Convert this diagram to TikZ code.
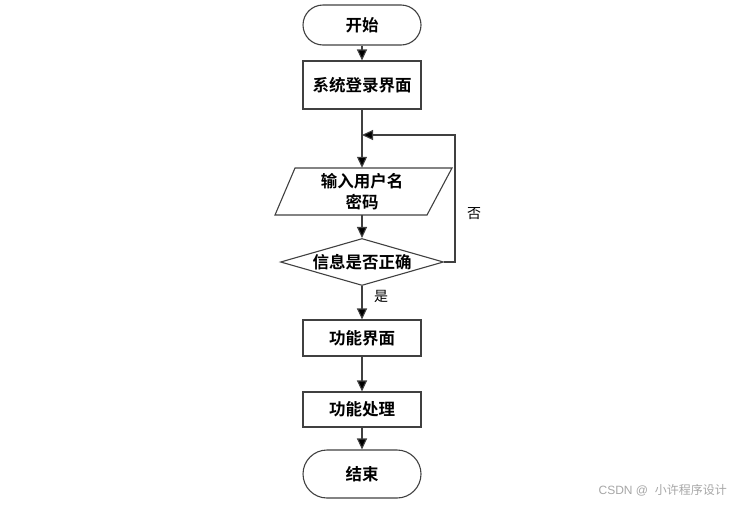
\documentclass[tikz,border=0pt]{standalone}
\usepackage{fontspec}
\usetikzlibrary{arrows.meta,shapes.geometric}
\newfontfamily\cjk{Noto Sans CJK SC}[BoldFont={* Bold}]
\newfontfamily\cjkl{Noto Sans CJK SC}
\begin{document}
\begin{tikzpicture}[x=1pt,y=-1pt,
  line/.style={draw=black!75, line width=1.1pt},
  arr/.style={line, -{Triangle[width=10pt,length=11pt,fill=black]}},
  term/.style={line, rounded corners=20pt, minimum width=118pt, minimum height=40pt, inner sep=0pt, font=\cjk\bfseries\fontsize{16.5}{19}\selectfont},
  proc/.style={line, minimum width=118pt, inner sep=0pt, font=\cjk\bfseries\fontsize{16.5}{19}\selectfont},
  dec/.style={line, diamond, aspect=3.47, minimum width=163pt, minimum height=47pt, inner sep=0pt, font=\cjk\bfseries\fontsize{16.5}{19}\selectfont},
  lbl/.style={font=\cjkl\fontsize{14}{16}\selectfont, inner sep=0pt}]
\useasboundingbox (0,0) rectangle (735,504);
\node[term] (start) at (362,25) {开始};
\node[proc, minimum height=48pt] (login) at (362,85) {系统登录界面};
\node[inner sep=0pt, minimum width=150pt, minimum height=47pt, align=center, font=\cjk\bfseries\fontsize{16.5}{21}\selectfont] (in) at (362,191.5) {输入用户名\\密码};
\draw[line] (275,215) -- (295,168) -- (452,168) -- (427,215) -- cycle;
\node[dec] (chk) at (362,262) {信息是否正确};
\node[proc, minimum height=36pt] (func) at (362,338) {功能界面};
\node[proc, minimum height=35pt] (proc) at (362,409.5) {功能处理};
\node[term, minimum height=48pt, rounded corners=24pt] (end) at (362,474) {结束};
\coordinate (j) at (362,135);
\coordinate (r) at (455,135);
\draw[arr] (start) -- (login);
\draw[arr] (login) -- (in);
\draw[arr] (in) -- (chk);
\draw[arr] (chk) -- (func);
\draw[arr] (func) -- (proc);
\draw[arr] (proc) -- (end);
\draw[arr] (chk.east) -| (r) -- (j);
\node[lbl] (no) at (474,214) {否};
\node[lbl] (yes) at (381,296) {是};
\node[font=\fontspec{Liberation Sans}\fontsize{12}{14}\selectfont, text=black!35, anchor=east, inner sep=0pt] (wm) at (727,490) {CSDN @\ \ \cjkl 小许程序设计};
\end{tikzpicture}
\end{document}
